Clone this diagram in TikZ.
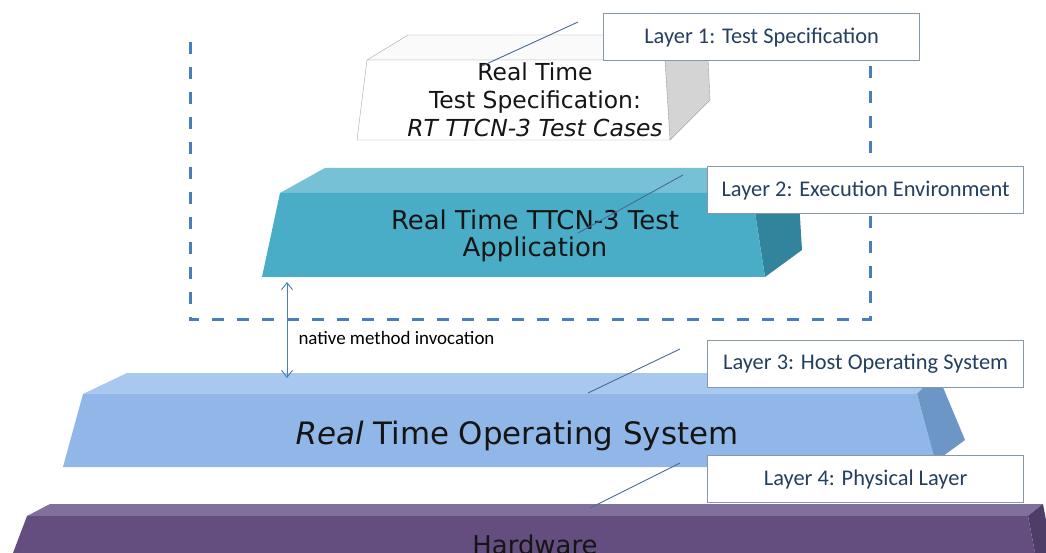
\documentclass[tikz,border=0pt]{standalone}
\usepackage{fontspec}
\setmainfont{DejaVu Sans}
\newfontfamily\labelfont{Carlito}
\usetikzlibrary{arrows.meta}

\definecolor{frameblue}{HTML}{4A7EBB}
\definecolor{calloutblue}{HTML}{4A6A94}
\definecolor{boxline}{HTML}{8496B0}
\definecolor{boxtext}{HTML}{243F60}
\definecolor{slabtextc}{HTML}{151515}
\definecolor{hwtop}{RGB}{130,112,156}
\definecolor{hwside}{RGB}{78,61,102}
\definecolor{hwfront}{RGB}{100,78,128}
\definecolor{ostop}{RGB}{168,200,239}
\definecolor{osside}{RGB}{108,150,198}
\definecolor{osfront}{RGB}{145,183,232}
\definecolor{apptop}{RGB}{118,193,214}
\definecolor{appside}{RGB}{49,132,155}
\definecolor{appfront}{RGB}{74,173,199}
\definecolor{spectop}{RGB}{250,250,250}
\definecolor{specside}{RGB}{212,212,212}

\begin{document}
\begin{tikzpicture}[x=1bp, y=-1bp,
    layerbox/.style={draw=boxline, line width=1.2bp, fill=white, anchor=north west,
        minimum width=316bp, minimum height=47bp, text=boxtext,
        font=\labelfont\fontsize{22.5}{24}\selectfont},
    slabtext/.style={text=slabtextc, align=center},
    callout/.style={draw=calloutblue, line width=0.9bp},
    frame/.style={draw=frameblue, line width=3bp, dash pattern=on 12bp off 13bp}
]
    \fill[white] (0,0) rectangle (1046,553);
    \useasboundingbox (0,0) rectangle (1046,553);

    \draw[frame] (190,42) -- (190,320) -- (870,320) -- (870,62);

    % hardware
    \fill[hwtop] (27,516) -- (50,504) -- (1043,504) -- (1028,516) -- cycle;
    \fill[hwside] (1028,516) -- (1043,504) -- (1052,553) -- (1035,553) -- cycle;
    \fill[hwfront] (27,516) -- (1028,516) -- (1035,553) -- (13,553) -- cycle;
    \node[slabtext, font=\fontsize{26}{30}\selectfont] (hw) at (535,545) {Hardware};

    % operating system
    \fill[ostop] (83,394) -- (127,373) -- (937,373) -- (917,394) -- cycle;
    \fill[osside] (917,394) -- (937,373) -- (965,440) -- (935,462) -- cycle;
    \fill[osfront] (83,394) -- (917,394) -- (937,467) -- (63,467) -- cycle;
    \node[slabtext, font=\fontsize{31}{32}\selectfont] (rtos) at (517,436) {\textit{Real} Time Operating System};

    % test application
    \fill[apptop] (280,193) -- (325,168) -- (797,168) -- (752,193) -- cycle;
    \fill[appside] (752,193) -- (797,168) -- (802,250) -- (765,277) -- cycle;
    \fill[appfront] (280,193) -- (752,193) -- (765,277) -- (262,277) -- cycle;
    \node[slabtext, font=\fontsize{26}{27}\selectfont] (app) at (535,236) {Real Time TTCN-3 Test\\Application};

    % test specification
    \filldraw[fill=spectop, draw=black!35] (367,60) -- (408,35) -- (707,35) -- (665,60) -- cycle;
    \filldraw[fill=specside, draw=black!35] (665,60) -- (707,35) -- (710,100) -- (670,140) -- cycle;
    \filldraw[fill=white, draw=black!35] (367,60) -- (665,60) -- (670,140) -- (357,140) -- cycle;
    \node[slabtext, font=\fontsize{23.5}{28}\selectfont] (spec) at (535,100) {Real Time\\Test Specification:\\\textit{RT TTCN-3 Test Cases}};

    \coordinate (c1a) at (578,22);  \coordinate (c1b) at (482,66);
    \coordinate (c2a) at (683,175); \coordinate (c2b) at (578,233);
    \coordinate (c3a) at (680,349); \coordinate (c3b) at (588,393);
    \coordinate (c4a) at (680,463); \coordinate (c4b) at (590,508);
    \draw[callout] (c1a) -- (c1b);
    \draw[callout] (c2a) -- (c2b);
    \draw[callout] (c3a) -- (c3b);
    \draw[callout] (c4a) -- (c4b);

    \coordinate (appbase) at (287,282);
    \coordinate (rtostop) at (287,378);
    \draw[frameblue, line width=0.9bp, {Straight Barb[length=7bp,width=11bp]}-{Straight Barb[length=7bp,width=11bp]}] (appbase) -- (rtostop);
    \node[anchor=west, font=\labelfont\fontsize{19}{20}\selectfont] (nmi) at (295,338) {native method invocation};

    \node[layerbox] (l1) at (603,13) {Layer 1: Test Specification};
    \node[layerbox] (l2) at (707,166) {Layer 2: Execution Environment};
    \node[layerbox] (l3) at (707,340) {Layer 3: Host Operating System};
    \node[layerbox] (l4) at (707,455) {Layer 4: Physical Layer};
\end{tikzpicture}
\end{document}
